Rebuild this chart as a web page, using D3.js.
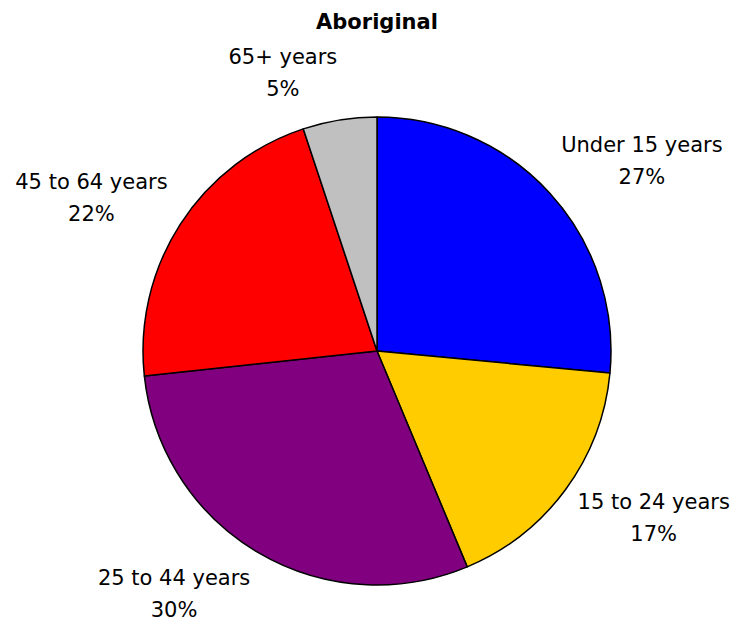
<!DOCTYPE html>
<html>
<head>
<meta charset="utf-8">
<script src="https://cdn.jsdelivr.net/npm/d3@7"></script>
<style>
  body { margin: 0; background: #fff; }
  svg { display: block; font-family: "DejaVu Sans", Tahoma, sans-serif; }
</style>
</head>
<body>
<svg width="736" height="625"></svg>
<script>
// chart data
const title = "Aboriginal";
const categories = ["Under 15 years", "15 to 24 years", "25 to 44 years", "45 to 64 years", "65+ years"];
const values = [26.5, 17.2, 29.6, 21.6, 5.1];
const colors = ["#0000ff", "#ffcc00", "#800080", "#ff0000", "#c0c0c0"];

const data = categories.map((c, i) => ({ name: c, value: values[i], color: colors[i] }));

const svg = d3.select("svg");
const cx = 377, cy = 351, radius = 234;

svg.append("text")
    .attr("x", cx).attr("y", 29)
    .attr("text-anchor", "middle")
    .attr("font-weight", "bold")
    .attr("font-size", 21)
    .text(title);

const g = svg.append("g").attr("transform", `translate(${cx},${cy})`);

const pie = d3.pie().sort(null).value(d => d.value);
const arc = d3.arc().innerRadius(0).outerRadius(radius);
const arcs = pie(data);

g.selectAll("path")
    .data(arcs)
    .enter().append("path")
    .attr("d", arc)
    .attr("fill", d => d.data.color)
    .attr("stroke", "#000")
    .attr("stroke-width", 1.5)
    .attr("stroke-linejoin", "round");

// labels outside the pie, text box pushed off the edge sideways (excel style)
const fontSize = 21, lineH = 32, gap = 15, labelRy = 282;
const labels = g.selectAll("g.lbl")
    .data(arcs)
    .enter().append("g")
    .attr("class", "lbl");

labels.each(function(d) {
    const el = d3.select(this);
    const t = el.append("text")
        .attr("text-anchor", "middle")
        .attr("font-size", fontSize);
    t.append("tspan").attr("x", 0).attr("y", -lineH / 2 + 7).text(d.data.name);
    t.append("tspan").attr("x", 0).attr("y", lineH / 2 + 7).text(Math.round(d.data.value) + "%");
    const w = t.node().getBBox().width;
    const a = (d.startAngle + d.endAngle) / 2;
    const s = Math.sin(a), c = Math.cos(a);
    const bx = s * (radius + gap) + Math.sign(s) * w / 2;
    const by = -c * labelRy;
    el.attr("transform", `translate(${bx},${by})`);
});
</script>
</body>
</html>
